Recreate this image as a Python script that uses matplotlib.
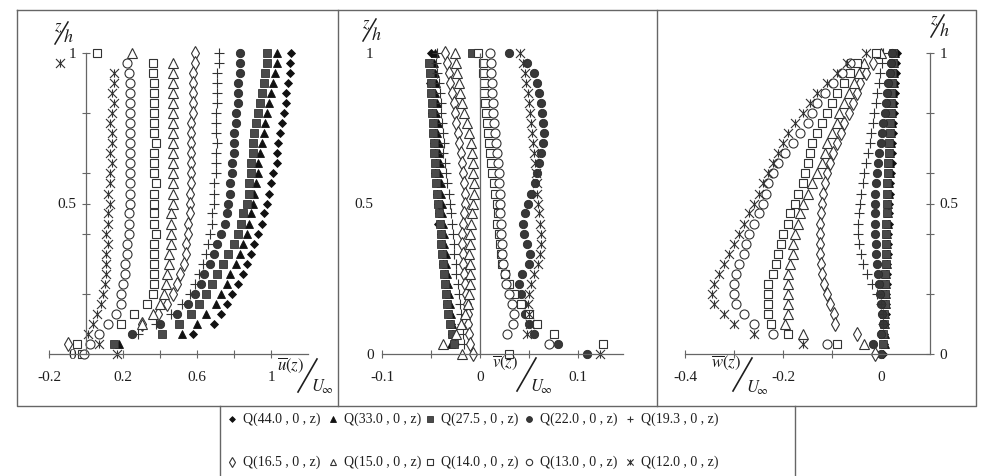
import numpy as np
import matplotlib.pyplot as plt
from matplotlib.path import Path

plt.rcParams['font.family'] = ['Liberation Serif', 'DejaVu Serif']
plt.rcParams['mathtext.fontset'] = 'stix'

# measurement heights z/h (shared by all profiles)
z = [1.0, 0.967, 0.933, 0.9, 0.867, 0.833, 0.8, 0.767, 0.733, 0.7,
     0.667, 0.633, 0.6, 0.567, 0.533, 0.5, 0.467, 0.433, 0.4, 0.367,
     0.333, 0.3, 0.267, 0.233, 0.2, 0.167, 0.133, 0.1, 0.067, 0.033, 0.0]

labels = ['Q(44.0 , 0 , z)', 'Q(33.0 , 0 , z)', 'Q(27.5 , 0 , z)', 'Q(22.0 , 0 , z)', 'Q(19.3 , 0 , z)',
          'Q(16.5 , 0 , z)', 'Q(15.0 , 0 , z)', 'Q(14.0 , 0 , z)', 'Q(13.0 , 0 , z)', 'Q(12.0 , 0 , z)']

# u/Uinf
u_44 = [1.11, 1.10, 1.10, 1.09, 1.08, 1.08, 1.07, 1.06, 1.05, 1.04, 1.03, 1.03, 1.01, 1.00, 0.99,
        0.98, 0.96, 0.95, 0.93, 0.91, 0.89, 0.87, 0.85, 0.82, 0.79, 0.76, 0.73, 0.69, 0.58, None, None]
u_33 = [1.03, 1.03, 1.02, 1.01, 1.00, 0.99, 0.98, 0.97, 0.96, 0.95, 0.94, 0.93, 0.93, 0.92, 0.91,
        0.90, 0.89, 0.88, 0.87, 0.85, 0.83, 0.81, 0.78, 0.76, 0.73, 0.70, 0.65, 0.60, 0.52, 0.18, None]
u_27 = [0.98, 0.98, 0.97, 0.96, 0.95, 0.94, 0.93, 0.92, 0.91, 0.90, 0.90, 0.89, 0.89, 0.88, 0.88,
        0.87, 0.85, 0.84, 0.82, 0.80, 0.77, 0.74, 0.71, 0.68, 0.65, 0.61, 0.57, 0.50, 0.41, 0.15, None]
u_22 = [0.83, 0.83, 0.83, 0.82, 0.82, 0.82, 0.81, 0.81, 0.80, 0.80, 0.80, 0.79, 0.79, 0.78, 0.78,
        0.77, 0.76, 0.75, 0.73, 0.71, 0.69, 0.67, 0.64, 0.62, 0.59, 0.55, 0.49, 0.40, 0.25, None, None]
u_19 = [0.72, 0.72, 0.71, 0.71, 0.71, 0.71, 0.70, 0.70, 0.70, 0.71, 0.70, 0.70, 0.70, 0.69, 0.69,
        0.69, 0.68, 0.68, 0.67, 0.66, 0.65, 0.63, 0.61, 0.59, 0.56, 0.52, 0.46, 0.38, 0.28, None, None]
u_16 = [0.59, 0.59, 0.58, 0.58, 0.58, 0.58, 0.58, 0.57, 0.57, 0.57, 0.57, 0.57, 0.57, 0.57, 0.56,
        0.56, 0.56, 0.55, 0.55, 0.54, 0.54, 0.53, 0.51, 0.49, 0.47, 0.44, 0.39, 0.30, None, -0.10, None]
u_15 = [0.25, 0.47, 0.47, 0.47, 0.47, 0.47, 0.47, 0.47, 0.47, 0.47, 0.47, 0.47, 0.47, 0.47, 0.47,
        0.47, 0.46, 0.46, 0.46, 0.46, 0.45, 0.45, 0.44, 0.43, 0.42, 0.40, 0.36, 0.30, None, None, None]
u_14 = [0.06, 0.36, 0.36, 0.37, 0.37, 0.37, 0.37, 0.37, 0.37, 0.38, 0.37, 0.37, 0.37, 0.38, 0.37,
        0.37, 0.37, 0.37, 0.38, 0.37, 0.37, 0.37, 0.37, 0.37, 0.36, 0.33, 0.26, 0.19, None, -0.05, -0.02]
u_13 = [None, 0.22, 0.23, 0.24, 0.24, 0.24, 0.24, 0.24, 0.24, 0.24, 0.24, 0.24, 0.24, 0.24, 0.24,
        0.24, 0.23, 0.23, 0.23, 0.22, 0.22, 0.21, 0.21, 0.20, 0.19, 0.19, 0.16, 0.12, 0.07, 0.02, -0.01]
u_12 = [None, -0.14, 0.15, 0.15, 0.14, 0.15, 0.14, 0.13, 0.14, 0.14, 0.13, 0.14, 0.13, 0.13, 0.12,
        0.13, 0.12, 0.12, 0.11, 0.12, 0.11, 0.11, 0.11, 0.10, 0.09, 0.08, 0.06, 0.04, 0.01, 0.07, 0.17]

# v/Uinf
v_44 = [-0.050, -0.050, -0.049, -0.051, -0.048, -0.048, -0.049, -0.047, -0.046, -0.047, -0.046,
        -0.045, -0.046, -0.044, -0.044, -0.043, -0.042, -0.043, -0.040, -0.039, -0.038, -0.038,
        -0.036, -0.035, -0.034, -0.034, -0.032, -0.030, -0.029, -0.026, None]
v_33 = [-0.046, -0.047, -0.046, -0.045, -0.046, -0.044, -0.045, -0.043, -0.044, -0.042, -0.042,
        -0.041, -0.042, -0.040, -0.040, -0.039, -0.039, -0.038, -0.037, -0.037, -0.035, -0.035,
        -0.034, -0.033, -0.032, -0.031, -0.030, -0.029, -0.028, -0.030, None]
v_27 = [-0.008, -0.052, -0.051, -0.050, -0.050, -0.049, -0.049, -0.048, -0.048, -0.047, -0.047,
        -0.046, -0.046, -0.045, -0.044, -0.043, -0.042, -0.041, -0.040, -0.040, -0.039, -0.038,
        -0.037, -0.036, -0.035, -0.034, -0.033, -0.031, -0.029, -0.027, None]
v_22 = [0.030, 0.048, 0.055, 0.058, 0.060, 0.062, 0.063, 0.064, 0.065, 0.064, 0.062, 0.060, 0.058,
        0.056, 0.052, 0.049, 0.046, 0.044, 0.045, 0.048, 0.051, 0.050, 0.043, 0.040, 0.042, 0.044,
        0.046, 0.050, 0.055, 0.080, 0.109]
v_19 = [-0.044, -0.045, -0.044, -0.042, -0.041, -0.040, -0.040, -0.039, -0.038, -0.037, -0.038,
        -0.036, -0.035, -0.034, -0.032, -0.031, -0.030, -0.029, -0.028, -0.027, -0.027, -0.025,
        -0.024, -0.022, -0.021, -0.020, -0.019, -0.018, -0.017, -0.016, None]
v_16 = [-0.036, -0.034, -0.032, -0.031, -0.029, -0.027, -0.026, -0.024, -0.022, -0.021, -0.019,
        -0.018, -0.017, -0.016, -0.015, -0.015, -0.016, -0.017, -0.018, -0.018, -0.017, -0.017,
        -0.016, -0.015, -0.014, -0.013, -0.012, -0.012, -0.011, -0.010, -0.007]
v_15 = [-0.026, -0.024, -0.023, -0.021, -0.020, -0.018, -0.016, -0.013, -0.011, -0.009, -0.008,
        -0.007, -0.007, -0.006, -0.006, -0.007, -0.008, -0.009, -0.010, -0.010, -0.011, -0.010,
        -0.010, -0.010, -0.011, -0.012, -0.015, -0.019, -0.024, -0.038, -0.018]
v_14 = [-0.002, 0.003, 0.003, 0.004, 0.004, 0.005, 0.006, 0.007, 0.008, 0.009, 0.010, 0.011, 0.012,
        0.014, 0.015, 0.017, 0.018, 0.017, 0.019, 0.020, 0.021, 0.022, 0.026, 0.030, 0.035, 0.042,
        0.050, 0.058, 0.075, 0.125, 0.030]
v_13 = [0.010, 0.011, 0.011, 0.012, 0.012, 0.013, 0.013, 0.014, 0.015, 0.016, 0.017, 0.018, 0.019,
        0.019, 0.020, 0.020, 0.020, 0.021, 0.021, 0.022, 0.022, 0.023, 0.025, 0.027, 0.030, 0.033,
        0.035, 0.034, 0.028, 0.070, None]
v_12 = [0.041, 0.044, 0.046, 0.047, 0.049, 0.050, 0.051, 0.052, 0.053, 0.054, 0.055, 0.056, 0.057,
        0.058, 0.058, 0.059, 0.060, 0.061, 0.062, 0.062, 0.061, 0.059, 0.055, 0.052, 0.050, 0.049,
        0.050, 0.051, 0.048, None, 0.122]

# w/Uinf
w_44 = [0.032, 0.031, 0.031, 0.029, 0.028, 0.027, 0.027, 0.025, 0.024, 0.023, 0.022, 0.022, 0.020,
        0.019, 0.018, 0.017, 0.017, 0.016, 0.015, 0.015, 0.014, 0.013, 0.013, 0.012, 0.011, 0.010,
        0.010, 0.008, 0.007, 0.006, 0.005]
w_33 = [0.028, 0.027, 0.027, 0.026, 0.025, 0.024, 0.023, 0.022, 0.021, 0.020, 0.019, 0.018, 0.018,
        0.017, 0.016, 0.015, 0.015, 0.014, 0.013, 0.013, 0.012, 0.012, 0.011, 0.011, 0.010, 0.010,
        0.009, 0.009, 0.008, 0.008, None]
w_27 = [0.024, 0.024, 0.023, 0.022, 0.021, 0.021, 0.020, 0.019, 0.018, 0.017, 0.016, 0.015, 0.014,
        0.013, 0.013, 0.012, 0.012, 0.011, 0.011, 0.010, 0.010, 0.010, 0.009, 0.009, 0.008, 0.008,
        0.007, 0.006, 0.005, 0.004, None]
w_22 = [0.022, 0.020, 0.018, 0.015, 0.012, 0.010, 0.008, 0.005, 0.003, 0.000, -0.004, -0.007, -0.009,
        -0.011, -0.012, -0.012, -0.012, -0.012, -0.012, -0.011, -0.010, -0.008, -0.007, -0.005,
        -0.003, -0.001, 0.002, 0.004, 0.000, -0.016, 0.000]
w_19 = [0.004, 0.003, -0.002, -0.005, -0.008, -0.011, -0.014, -0.017, -0.020, -0.023, -0.027, -0.030,
        -0.034, -0.037, -0.040, -0.043, -0.045, -0.046, -0.047, -0.045, -0.041, -0.036, -0.028,
        -0.018, -0.008, 0.000, 0.004, 0.005, None, None, None]
w_16 = [None, -0.016, -0.030, -0.043, -0.050, -0.058, -0.065, -0.075, -0.082, -0.090, -0.097, -0.104,
        -0.110, -0.115, -0.118, -0.120, -0.122, -0.124, -0.125, -0.125, -0.124, -0.122, -0.120,
        -0.116, -0.110, -0.104, -0.096, -0.094, -0.050, None, -0.012]
w_15 = [0.000, -0.035, -0.045, -0.055, -0.065, -0.075, -0.085, -0.090, -0.100, -0.110, -0.115, -0.120,
        -0.130, -0.140, -0.150, -0.160, -0.165, -0.170, -0.175, -0.180, -0.180, -0.185, -0.190,
        -0.190, -0.190, -0.190, -0.190, -0.195, -0.160, -0.035, None]
w_14 = [-0.010, -0.050, -0.063, -0.075, -0.090, -0.100, -0.110, -0.120, -0.130, -0.140, -0.145, -0.150,
        -0.155, -0.160, -0.170, -0.175, -0.185, -0.190, -0.200, -0.205, -0.210, -0.215, -0.220,
        -0.230, -0.230, -0.230, -0.230, -0.225, -0.190, -0.090, None]
w_13 = [None, -0.063, -0.080, -0.098, -0.115, -0.130, -0.140, -0.150, -0.165, -0.180, -0.195, -0.210,
        -0.220, -0.230, -0.235, -0.240, -0.250, -0.260, -0.270, -0.275, -0.280, -0.290, -0.295,
        -0.300, -0.300, -0.295, -0.280, -0.260, -0.220, -0.110, None]
w_12 = [-0.030, -0.070, -0.090, -0.110, -0.130, -0.145, -0.160, -0.175, -0.190, -0.200, -0.210, -0.220,
        -0.230, -0.240, -0.250, -0.260, -0.270, -0.280, -0.290, -0.300, -0.310, -0.320, -0.330,
        -0.340, -0.345, -0.340, -0.320, -0.300, -0.260, -0.160, None]

u_all = [u_44, u_33, u_27, u_22, u_19, u_16, u_15, u_14, u_13, u_12]
v_all = [v_44, v_33, v_27, v_22, v_19, v_16, v_15, v_14, v_13, v_12]
w_all = [w_44, w_33, w_27, w_22, w_19, w_16, w_15, w_14, w_13, w_12]

# cross with a vertical stroke, as printed for Q(12.0,0,z)
xbar = Path([(-1, -1), (1, 1), (-1, 1), (1, -1), (0, -0.9), (0, 0.9)],
            [Path.MOVETO, Path.LINETO, Path.MOVETO, Path.LINETO, Path.MOVETO, Path.LINETO])

# marker styles, same order as labels
styles = [
    dict(marker='D', ms=4.2, mfc='#111', mec='#111', mew=0.6),
    dict(marker='^', ms=5.5, mfc='#111', mec='#111', mew=0.6),
    dict(marker='s', ms=5.5, mfc='#4a4a4a', mec='#333', mew=0.6),
    dict(marker='o', ms=6.0, mfc='#383838', mec='#2a2a2a', mew=0.6),
    dict(marker='+', ms=7.0, mfc='none', mec='#333', mew=0.8),
    dict(marker='d', ms=7.0, mfc='white', mec='#333', mew=0.8),
    dict(marker='^', ms=6.5, mfc='white', mec='#333', mew=0.8),
    dict(marker='s', ms=6.0, mfc='white', mec='#333', mew=0.8),
    dict(marker='o', ms=6.5, mfc='white', mec='#333', mew=0.8),
    dict(marker=xbar, ms=6.5, mfc='none', mec='#333', mew=0.8),
]

W, H = 984, 476
TOP, BOT = 15, 400      # pixel rows of the panels
Y0, YS = 354, 301       # pixel row of z=0, pixels per unit z
LC = '#666666'
TC = '#1e1e1e'

fig = plt.figure(figsize=(W / 100, H / 100), dpi=100)
fig.patch.set_facecolor('white')


def panel(left, right, x0, scale):
    ax = fig.add_axes([left / W, 1 - BOT / H, (right - left) / W, (BOT - TOP) / H])
    ax.set_xlim((left - x0) / scale, (right - x0) / scale)
    ax.set_ylim((Y0 - BOT) / YS, (Y0 - TOP) / YS)
    ax.patch.set_alpha(0)
    for s in ax.spines.values():
        s.set_visible(False)
        s.set_color(LC)
        s.set_linewidth(0.9)
    ax.tick_params(which='both', direction='inout', color=LC, width=0.8, length=6,
                   labelsize=11, labelcolor=TC)
    return ax


ax1 = panel(20, 335, 86, 185)
ax2 = panel(342, 652, 480, 980)
ax3 = panel(662, 972, 881, 490)

for ax, vals in ((ax1, u_all), (ax2, v_all), (ax3, w_all)):
    for xs, st in zip(vals, styles):
        ax.plot(np.array(xs, dtype=float), z, ls='none', **st)

# panel 1 axes
ax1.spines['bottom'].set_visible(True)
ax1.spines['bottom'].set_position(('data', 0))
ax1.spines['bottom'].set_bounds(-0.2, 1.2)
ax1.spines['left'].set_visible(True)
ax1.spines['left'].set_position(('data', 0))
ax1.spines['left'].set_bounds(0, 1)
ax1.set_xticks([-0.2, 0.2, 0.6, 1.0], ['-0.2', '0.2', '0.6', '1'])
ax1.set_xticks([0.4, 0.8], minor=True)
ax1.set_yticks([0, 0.5, 1], ['0', '0.5', '1'])
ax1.set_yticks([0.2, 0.4, 0.6, 0.8], minor=True)
ax1.tick_params(axis='x', pad=9)
ax1.tick_params(axis='y', pad=4)

# panel 2 axes
ax2.spines['bottom'].set_visible(True)
ax2.spines['bottom'].set_position(('data', 0))
ax2.spines['bottom'].set_bounds(-0.1, 0.146)
ax2.spines['left'].set_position(('data', -0.1))
ax2.vlines(0, 0, 1, color=LC, lw=0.9)
ax2.set_xticks([-0.1, 0, 0.1], ['-0.1', '0', '0.1'])
ax2.set_xticks([-0.05, 0.05], minor=True)
ax2.set_yticks([0, 0.5, 1], ['0', '0.5', '1'])
ax2.tick_params(axis='x', pad=9)
ax2.tick_params(axis='y', length=0, pad=6)

# panel 3 axes
ax3.spines['bottom'].set_visible(True)
ax3.spines['bottom'].set_position(('data', 0))
ax3.spines['bottom'].set_bounds(-0.4, 0.1)
ax3.spines['right'].set_visible(True)
ax3.spines['right'].set_position(('data', 0.1))
ax3.spines['right'].set_bounds(0, 1)
ax3.yaxis.tick_right()
ax3.set_xticks([-0.4, -0.2, 0], ['-0.4', '-0.2', '0'])
ax3.set_xticks([-0.3, -0.1], minor=True)
ax3.set_yticks([0, 0.5, 1], ['0', '0.5', '1'])
ax3.set_yticks([0.2, 0.4, 0.6, 0.8], minor=True)
ax3.tick_params(axis='x', pad=9)
ax3.tick_params(axis='y', pad=4)

# overlay in pixel coordinates for frames, axis titles and legend
ov = fig.add_axes([0, 0, 1, 1])
ov.set_xlim(0, W)
ov.set_ylim(H, 0)
ov.axis('off')
ov.patch.set_alpha(0)

for xs, ys in (([17, 976, 976, 17, 17], [10, 10, 406, 406, 10]),
               ([338, 338], [10, 406]), ([657, 657], [10, 406]),
               ([220, 220], [406, 476]), ([795, 795], [406, 476])):
    ov.plot(xs, ys, color=LC, lw=1.0)

# z/h titles: small z, slanted stroke, small h
for cx, cy in ((63, 33), (371, 30), (939, 26)):
    ov.text(cx - 5, cy - 6, r'$z$', fontsize=12, color=TC, ha='center', va='center')
    ov.plot([cx - 8, cx + 5], [cy + 11, cy - 11], color=TC, lw=1.1)
    ov.text(cx + 5, cy + 5, r'$h$', fontsize=13, color=TC, ha='center', va='center')

# velocity titles: overbar symbol, slanted stroke, U_inf
for name, (ax_, ay), (sx0, sy0, sx1, sy1), (ux, uy) in (
        ('u', (291, 365), (298, 392, 317, 359), (322, 387)),
        ('v', (505, 363), (517, 391, 536, 358), (541, 387)),
        ('w', (726, 363), (733, 391, 752, 358), (757, 388))):
    ov.text(ax_, ay, r'$\overline{%s}(z)$' % name, fontsize=12, color=TC, ha='center', va='center')
    ov.plot([sx0, sx1], [sy0, sy1], color=TC, lw=1.2)
    ov.text(ux, uy, r'$U_{\!\infty}$', fontsize=12, color=TC, ha='center', va='center')

col_x = [232, 333, 430, 529, 630]
row_y = [419, 462]
for i, (lab, st) in enumerate(zip(labels, styles)):
    mx, my = col_x[i % 5], row_y[i // 5]
    leg = dict(st)
    leg['ms'] = st['ms'] * 0.7
    ov.plot([mx], [my], ls='none', **leg)
    ov.text(mx + 11, my, lab, fontsize=10, color=TC, ha='left', va='center')

fig.savefig('out.png', dpi=100, facecolor='white')
